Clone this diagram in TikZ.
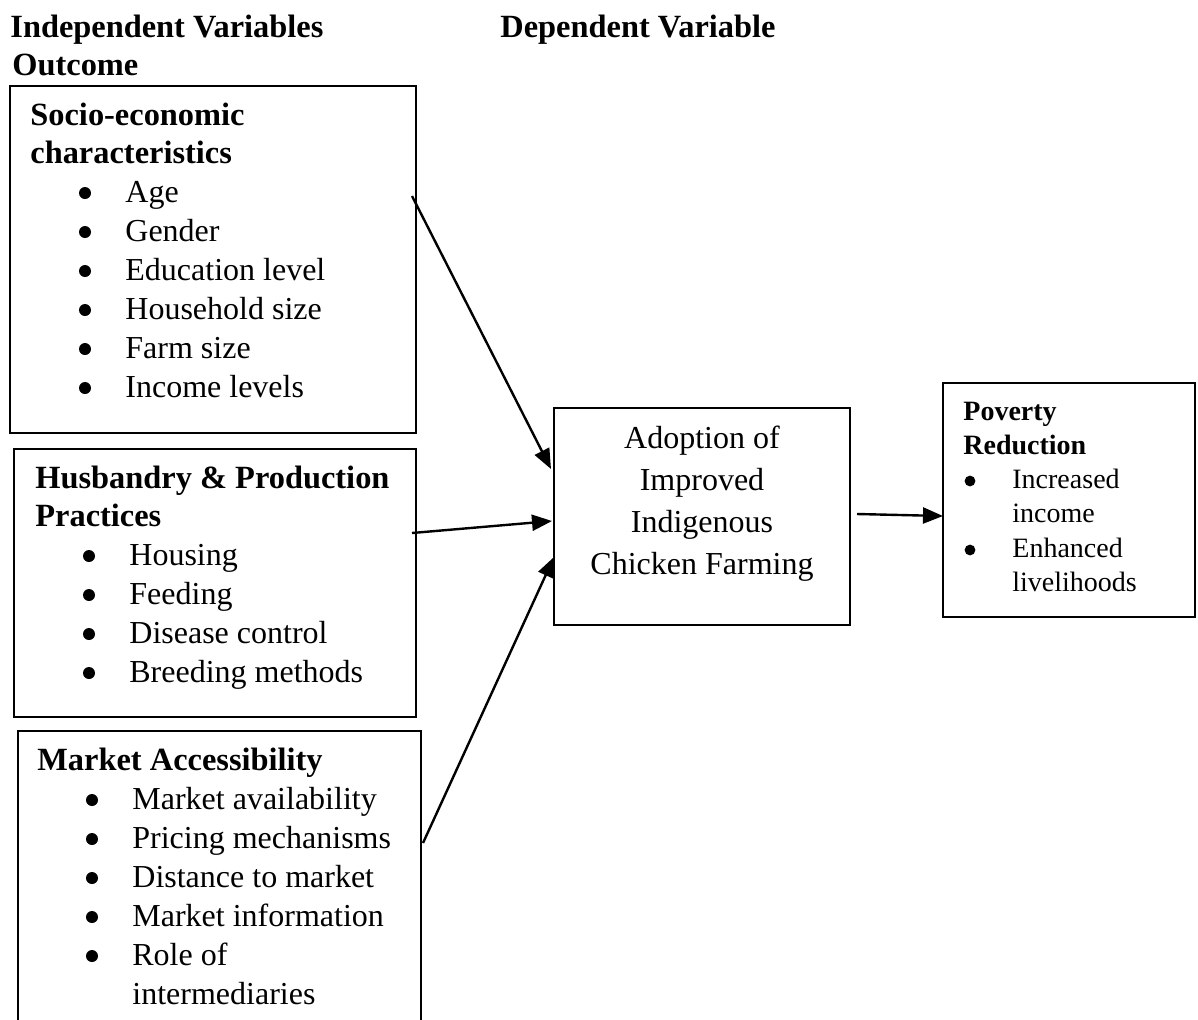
\documentclass[tikz,border=0pt]{standalone}
\usepackage{fontspec}
\setmainfont{Liberation Serif}
\usetikzlibrary{arrows.meta}
\begin{document}
\begin{tikzpicture}[x=0.5pt,y=-0.5pt,
  box/.style={draw,line width=0.7pt},
  txt/.style={anchor=base west,inner sep=0pt,font=\fontsize{16}{19.5}\selectfont},
  hd/.style={txt,font=\fontsize{16.2}{19.5}\selectfont\bfseries},
  stxt/.style={anchor=base west,inner sep=0pt,font=\fontsize{14}{17}\selectfont},
  shd/.style={stxt,font=\fontsize{14}{17}\selectfont\bfseries},
  ctxt/.style={anchor=base,inner sep=0pt,font=\fontsize{16}{19.5}\selectfont},
  bul/.style={circle,fill,inner sep=0pt,minimum size=6pt},
  sbul/.style={circle,fill,inner sep=0pt,minimum size=5.4pt},
  arr/.style={line width=1.2pt,-{Triangle[length=10pt,width=8pt]}}]
\useasboundingbox (0,0) rectangle (1198,1019);
% headings
\node[hd] (h1) at (10,37) {Independent Variables};
\node[hd] (h2) at (12,75) {Outcome};
\node[hd] (h3) at (500,37) {Dependent Variable};
% boxes
\draw[box] (10,86) rectangle (416,433);
\draw[box] (14,449) rectangle (416,717);
\draw[box] (18,1030) -- (18,731) -- (421,731) -- (421,1030);
\draw[box] (554,408) rectangle (850,625);
\draw[box] (943,383) rectangle (1195,617);
% box 1
\node[hd] (a0) at (30,125) {Socio-economic};
\node[hd] (a1) at (30,163) {characteristics};
\foreach \t [count=\i] in {Age,Gender,Education level,Household size,Farm size,Income levels}{
  \node[bul] (ab\i) at (85,154+39*\i) {};
  \node[txt] (a\i t) at (125,163+39*\i) {\t};
}
% box 2
\node[hd] (b0) at (35,488) {Husbandry \& Production};
\node[hd] (b1) at (35,526) {Practices};
\foreach \t [count=\i] in {Housing,Feeding,Disease control,Breeding methods}{
  \node[bul] (bb\i) at (89,517+39*\i) {};
  \node[txt] (b\i t) at (129,526+39*\i) {\t};
}
% box 3
\node[hd] (c0) at (37,770) {Market Accessibility};
\foreach \t [count=\i] in {Market availability,Pricing mechanisms,Distance to market,Market information,Role of}{
  \node[bul] (cb\i) at (92,761+39*\i) {};
  \node[txt] (c\i t) at (132,770+39*\i) {\t};
}
\node[txt] (c6t) at (132,1004) {intermediaries};
% center
\foreach \t [count=\i] in {Adoption of,Improved,Indigenous,Chicken Farming}{
  \node[ctxt] (d\i) at (702,406+42*\i) {\t};
}
% right
\node[shd] (e0) at (963,420) {Poverty};
\node[shd] (e1) at (963,454) {Reduction};
\node[sbul] (eb1) at (970,481) {};
\node[stxt] (e2) at (1012,488) {Increased};
\node[stxt] (e3) at (1012,522) {income};
\node[sbul] (eb2) at (970,550) {};
\node[stxt] (e4) at (1012,557) {Enhanced};
\node[stxt] (e5) at (1012,591) {livelihoods};
% arrows
\coordinate (s1) at (412,196);
\coordinate (t1) at (551,469);
\coordinate (s2) at (412,533);
\coordinate (t2) at (552,521);
\coordinate (s3) at (423,843);
\coordinate (t3) at (554,557);
\coordinate (s4) at (857,514);
\coordinate (t4) at (943,516);
\draw[arr] (s1) -- (t1);
\draw[arr] (s2) -- (t2);
\draw[arr] (s3) -- (t3);
\draw[arr] (s4) -- (t4);
\end{tikzpicture}
\end{document}
